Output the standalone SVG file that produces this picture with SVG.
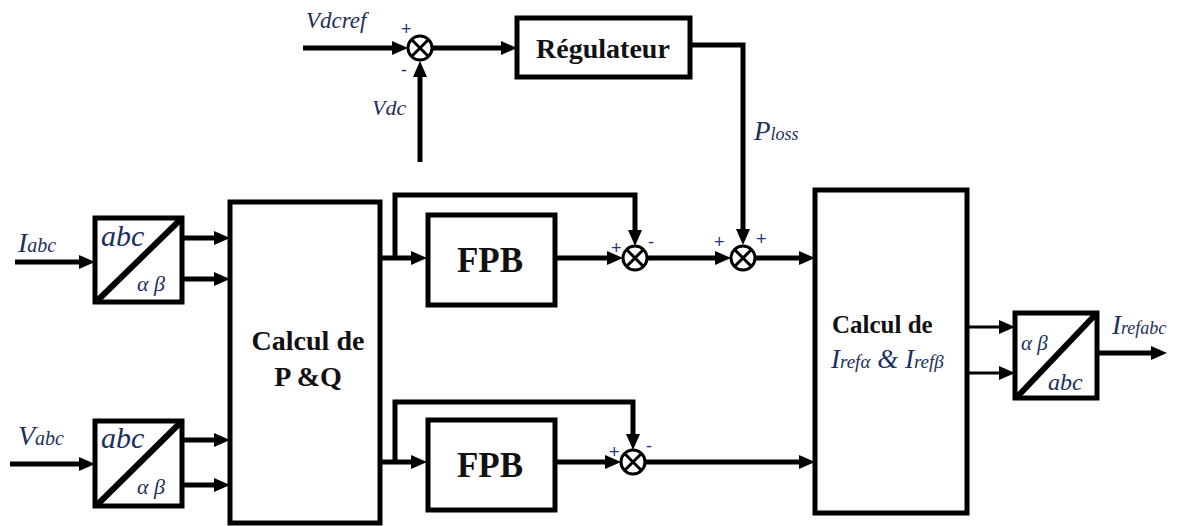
<svg xmlns="http://www.w3.org/2000/svg" width="1189" height="526" viewBox="0 0 1189 526">
<style>
.blk{fill:#fff;stroke:#000;stroke-width:5}
.ln{fill:none;stroke:#000;stroke-width:5}
.thin{fill:none;stroke:#000;stroke-width:3}
.sum{fill:#fff;stroke:#000;stroke-width:3}
.b{font-family:"Liberation Serif","Times New Roman",serif;font-weight:bold;fill:#111}
.i{font-family:"Liberation Serif","Times New Roman",serif;font-style:italic;fill:#1c2f5e}
.s{font-family:"Liberation Sans",sans-serif;fill:#1c2f8e;font-size:18px}
</style>
<defs>
<marker id="ah" markerWidth="20" markerHeight="20" viewBox="-2 -10 20 20" refX="2" refY="0" orient="auto" markerUnits="userSpaceOnUse"><path d="M0,-7 L16,0 L0,7 z" fill="#000"/></marker>
<g id="sumsym"><circle r="12" class="sum"/><path d="M-8.5,-8.5 L8.5,8.5 M8.5,-8.5 L-8.5,8.5" stroke="#000" stroke-width="3"/></g>
</defs>
<rect width="1189" height="526" fill="#fff"/>

<g id="connectors">
<path class="ln" d="M303,48 H394" marker-end="url(#ah)"/>
<path class="ln" d="M420,162 V75" marker-end="url(#ah)"/>
<path class="ln" d="M432,48 H503" marker-end="url(#ah)"/>
<path class="ln" d="M690,45 H743 V231" marker-end="url(#ah)"/>
<path class="ln" d="M15,262 H81" marker-end="url(#ah)"/>
<path class="ln" d="M182,238 H216" marker-end="url(#ah)"/>
<path class="ln" d="M182,279 H216" marker-end="url(#ah)"/>
<path class="ln" d="M10,464 H81" marker-end="url(#ah)"/>
<path class="ln" d="M182,440 H216" marker-end="url(#ah)"/>
<path class="ln" d="M182,485 H216" marker-end="url(#ah)"/>
<path class="ln" d="M380,258 H413" marker-end="url(#ah)"/>
<path class="ln" d="M395,258 V195 H635 V232" marker-end="url(#ah)"/>
<path class="ln" d="M555,258 H609" marker-end="url(#ah)"/>
<path class="ln" d="M647,258 H717" marker-end="url(#ah)"/>
<path class="ln" d="M755,258 H801" marker-end="url(#ah)"/>
<path class="ln" d="M380,462 H413" marker-end="url(#ah)"/>
<path class="ln" d="M395,462 V402 H633 V436" marker-end="url(#ah)"/>
<path class="ln" d="M555,462 H607" marker-end="url(#ah)"/>
<path class="ln" d="M645,462 H801" marker-end="url(#ah)"/>
<path class="thin" d="M967,327 H1001" marker-end="url(#ah)"/>
<path class="thin" d="M967,373 H1001" marker-end="url(#ah)"/>
<path class="ln" d="M1097,353 H1153" marker-end="url(#ah)"/>
</g>

<g id="sum-vdc">
<use href="#sumsym" x="420" y="48"/>
<text class="s" x="401" y="35" font-size="20">+</text>
<text class="s" x="401" y="76" font-size="20">-</text>
</g>
<g id="label-vdcref"><text class="i" x="306" y="28" font-size="23">Vdcref</text></g>
<g id="label-vdc"><text class="i" x="372" y="115" font-size="22">Vdc</text></g>

<g id="regulateur">
<rect class="blk" x="517" y="18" width="173" height="59"/>
<text class="b" x="603" y="58" font-size="28" text-anchor="middle">Régulateur</text>
</g>
<g id="label-ploss"><text class="i" x="754" y="140" font-size="27">P<tspan font-size="18">loss</tspan></text></g>

<g id="abc-ab-i">
<rect class="blk" x="95" y="218" width="87" height="84"/>
<path d="M98,300 L180,220" stroke="#000" stroke-width="6"/>
<text class="i" x="101" y="246" font-size="30">abc</text>
<text class="i" x="137" y="291" font-size="22">α β</text>
</g>
<g id="label-iabc"><text class="i" x="18" y="252" font-size="28">I<tspan font-size="20">abc</tspan></text></g>

<g id="abc-ab-v">
<rect class="blk" x="95" y="421" width="87" height="85"/>
<path d="M98,504 L180,423" stroke="#000" stroke-width="6"/>
<text class="i" x="101" y="448" font-size="30">abc</text>
<text class="i" x="137" y="494" font-size="22">α β</text>
</g>
<g id="label-vabc"><text class="i" x="18" y="445" font-size="28">V<tspan font-size="20">abc</tspan></text></g>

<g id="calcul-pq">
<rect class="blk" x="230" y="202" width="150" height="321"/>
<text class="b" x="308" y="350" font-size="28" text-anchor="middle">Calcul de</text>
<text class="b" x="308" y="386" font-size="28" text-anchor="middle">P &amp;Q</text>
</g>

<g id="fpb-top">
<rect class="blk" x="428" y="215" width="127" height="90"/>
<text class="b" x="490" y="272" font-size="35" text-anchor="middle">FPB</text>
</g>
<g id="fpb-bottom">
<rect class="blk" x="428" y="420" width="127" height="90"/>
<text class="b" x="490" y="477" font-size="35" text-anchor="middle">FPB</text>
</g>

<g id="sum-p">
<use href="#sumsym" x="635" y="258"/>
<text class="s" x="611" y="254">+</text>
<text class="s" x="648" y="248">-</text>
</g>
<g id="sum-ploss">
<use href="#sumsym" x="743" y="258"/>
<text class="s" x="714" y="248">+</text>
<text class="s" x="756" y="245">+</text>
</g>
<g id="sum-q">
<use href="#sumsym" x="633" y="462"/>
<text class="s" x="609" y="458">+</text>
<text class="s" x="646" y="452">-</text>
</g>

<g id="calcul-iref">
<rect class="blk" x="815" y="190" width="152" height="323"/>
<text class="b" x="832" y="333" font-size="25">Calcul de</text>
<text class="i" x="831" y="368" font-size="27">I<tspan font-size="19">refα</tspan> &amp; I<tspan font-size="19">refβ</tspan></text>
</g>

<g id="ab-abc">
<rect class="blk" x="1015" y="313" width="82" height="85"/>
<path d="M1018,396 L1095,315" stroke="#000" stroke-width="6"/>
<text class="i" x="1021" y="350" font-size="21">α β</text>
<text class="i" x="1048" y="390" font-size="24">abc</text>
</g>
<g id="label-irefabc"><text class="i" x="1112" y="334" font-size="27">I<tspan font-size="18">refabc</tspan></text></g>
</svg>
